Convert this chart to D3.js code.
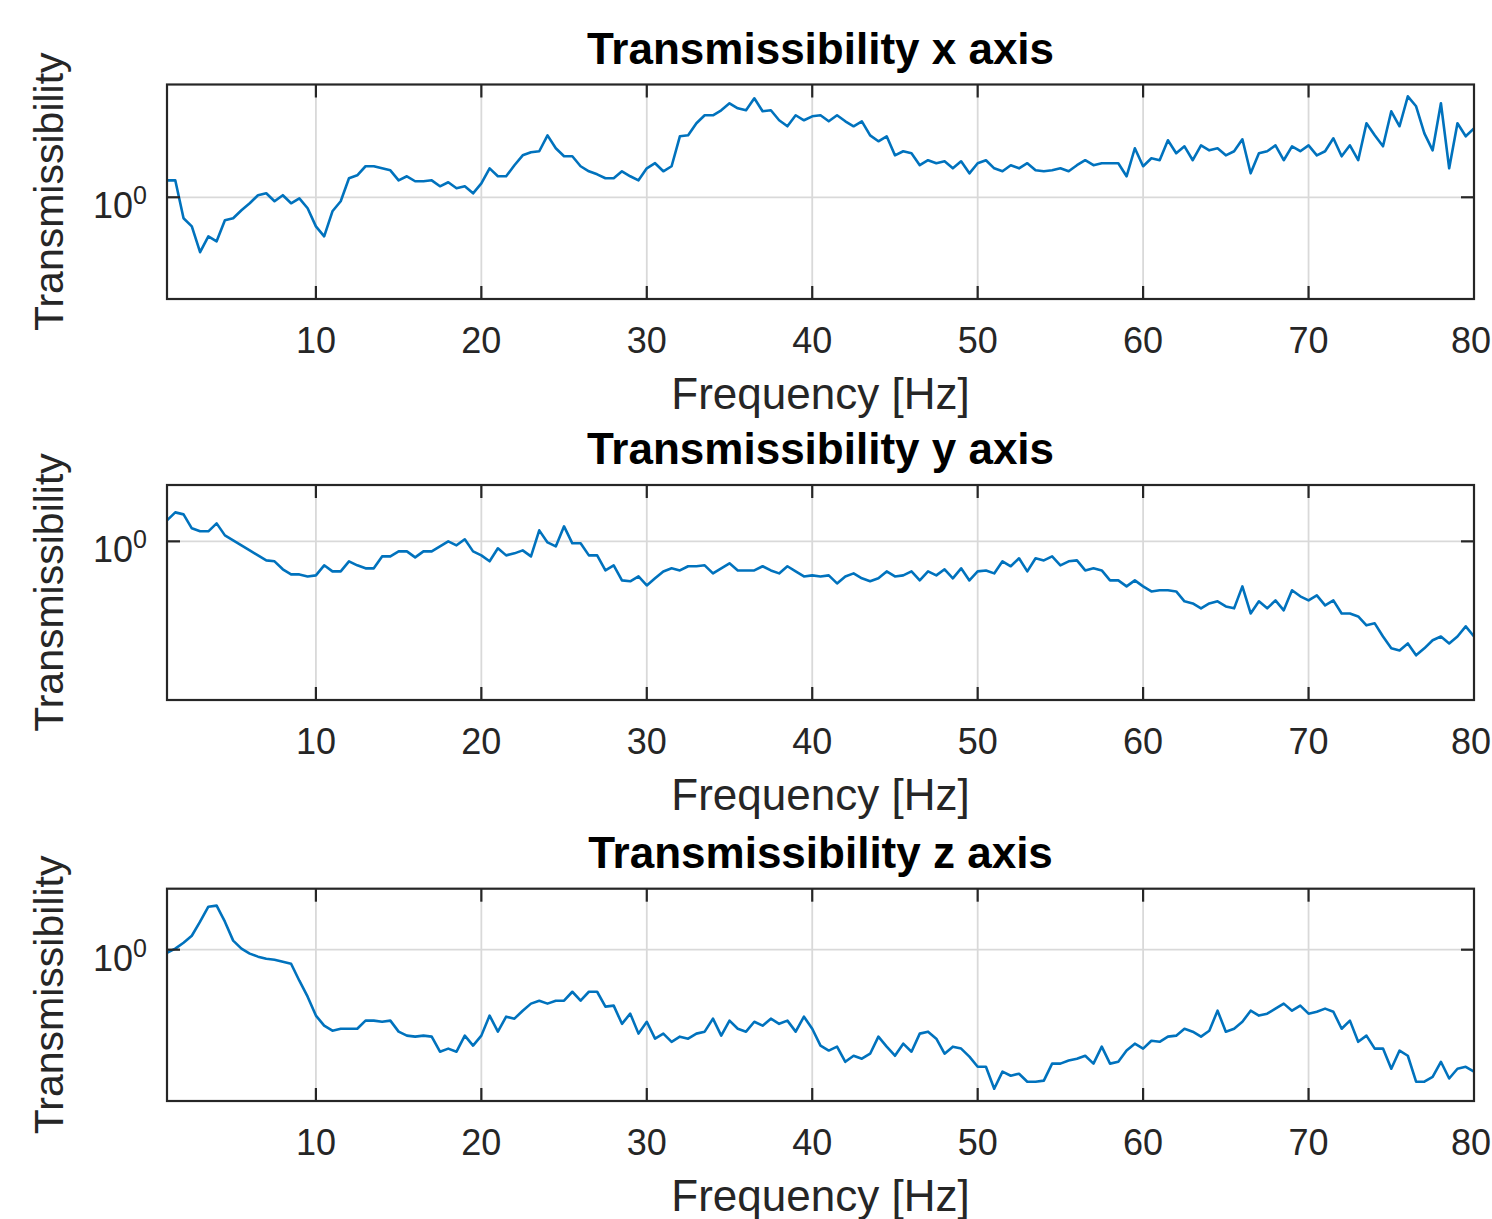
<!DOCTYPE html>
<html>
<head>
<meta charset="utf-8">
<script src="https://cdn.jsdelivr.net/npm/d3@7"></script>
<style>
  body { margin: 0; background: #fff; }
  text { font-family: "Liberation Sans", Arial, Helvetica, sans-serif; fill: #262626; }
</style>
</head>
<body>
<div id="chart"></div>
<script>
// frequency grid of the measurement (Hz), 0.5 Hz steps from 1 to 80
var freq = d3.range(1, 80.25, 0.5);
var xTicks = [10, 20, 30, 40, 50, 60, 70, 80];
var yTicks = [1];

// transmissibility, one value per 0.5 Hz (10 per row = 5 Hz)
var transX = [
  1.139,1.139,0.851,0.800,0.656,0.741,0.713,0.838,0.851,0.905,
  0.955,1.016,1.031,0.970,1.016,0.955,0.992,0.919,0.800,0.741,
  0.898,0.970,1.157,1.184,1.269,1.269,1.249,1.230,1.139,1.175,
  1.131,1.131,1.139,1.088,1.122,1.072,1.088,1.031,1.113,1.249,
  1.175,1.175,1.279,1.380,1.413,1.424,1.609,1.457,1.370,1.370,
  1.269,1.221,1.193,1.157,1.157,1.221,1.175,1.139,1.249,1.299,
  1.221,1.269,1.597,1.609,1.765,1.877,1.877,1.950,2.058,1.980,
  1.950,2.138,1.935,1.950,1.806,1.725,1.877,1.806,1.862,1.877,
  1.792,1.877,1.792,1.725,1.792,1.609,1.537,1.597,1.380,1.424,
  1.402,1.279,1.329,1.299,1.318,1.249,1.318,1.202,1.299,1.329,
  1.249,1.221,1.279,1.249,1.299,1.230,1.221,1.230,1.249,1.221,
  1.279,1.329,1.279,1.299,1.299,1.299,1.175,1.457,1.269,1.349,
  1.329,1.549,1.402,1.479,1.329,1.490,1.434,1.457,1.380,1.424,
  1.561,1.202,1.402,1.424,1.490,1.329,1.479,1.424,1.490,1.380,
  1.424,1.573,1.370,1.490,1.329,1.765,1.609,1.479,1.935,1.725,
  2.171,2.011,1.634,1.434,2.058,1.249,1.765,1.597,1.698
];

var transY = [
  1.175,1.249,1.230,1.105,1.080,1.080,1.148,1.047,1.008,0.970,
  0.933,0.898,0.864,0.858,0.807,0.776,0.776,0.764,0.770,0.832,
  0.794,0.794,0.858,0.832,0.813,0.813,0.891,0.891,0.926,0.926,
  0.884,0.926,0.926,0.962,1.000,0.970,1.016,0.926,0.898,0.858,
  0.948,0.898,0.912,0.933,0.891,1.088,0.992,0.962,1.122,0.985,
  0.985,0.898,0.898,0.800,0.832,0.741,0.736,0.764,0.713,0.753,
  0.794,0.813,0.800,0.826,0.826,0.832,0.782,0.813,0.845,0.800,
  0.800,0.800,0.826,0.800,0.782,0.826,0.794,0.764,0.770,0.764,
  0.770,0.724,0.764,0.782,0.753,0.736,0.753,0.794,0.764,0.770,
  0.794,0.741,0.794,0.770,0.807,0.753,0.813,0.741,0.794,0.800,
  0.782,0.858,0.826,0.878,0.794,0.878,0.864,0.891,0.832,0.858,
  0.864,0.800,0.813,0.800,0.741,0.741,0.708,0.741,0.708,0.681,
  0.687,0.687,0.681,0.631,0.621,0.598,0.621,0.631,0.607,0.598,
  0.708,0.575,0.631,0.598,0.636,0.589,0.687,0.656,0.636,0.661,
  0.612,0.636,0.575,0.575,0.562,0.525,0.533,0.482,0.440,0.433,
  0.457,0.417,0.440,0.468,0.482,0.457,0.482,0.521,0.482
];

var transZ = [
  0.977,1.008,1.055,1.113,1.240,1.391,1.402,1.240,1.072,1.008,
  0.970,0.948,0.933,0.926,0.912,0.898,0.788,0.697,0.603,0.558,
  0.537,0.545,0.545,0.545,0.580,0.580,0.575,0.580,0.533,0.517,
  0.513,0.517,0.513,0.457,0.468,0.457,0.517,0.479,0.517,0.603,
  0.533,0.598,0.589,0.626,0.661,0.676,0.661,0.676,0.676,0.724,
  0.676,0.724,0.724,0.646,0.651,0.566,0.612,0.525,0.575,0.505,
  0.525,0.493,0.513,0.505,0.525,0.533,0.589,0.517,0.580,0.545,
  0.533,0.575,0.558,0.589,0.566,0.580,0.533,0.598,0.545,0.479,
  0.461,0.475,0.423,0.443,0.433,0.450,0.513,0.475,0.443,0.486,
  0.457,0.525,0.533,0.505,0.450,0.475,0.468,0.440,0.407,0.407,
  0.344,0.392,0.380,0.386,0.363,0.363,0.366,0.417,0.417,0.427,
  0.433,0.443,0.417,0.475,0.417,0.423,0.461,0.486,0.468,0.497,
  0.493,0.513,0.517,0.545,0.533,0.513,0.537,0.626,0.533,0.545,
  0.575,0.626,0.603,0.612,0.636,0.661,0.626,0.651,0.612,0.621,
  0.636,0.621,0.545,0.580,0.493,0.517,0.468,0.468,0.401,0.461,
  0.443,0.363,0.363,0.377,0.423,0.372,0.401,0.407,0.392
];

var titles = ["Transmissibility x axis", "Transmissibility y axis", "Transmissibility z axis"];
var series = [transX, transY, transZ];
var yLimits = [[0.458, 2.377], [0.296, 1.541], [0.313, 1.597]];

var width = 1492, height = 1219;
var left = 167, right = 1474;
var panelTops = [84.5, 485, 888.7],
    panelBottoms = [299, 700, 1101];
var tickLen = 13;

var svg = d3.select("#chart").append("svg")
    .attr("width", width)
    .attr("height", height);

var x = d3.scaleLinear().domain([1, 80]).range([left, right]);

series.forEach(function(vals, i) {
  var top = panelTops[i], bottom = panelBottoms[i];
  var y = d3.scaleLog().domain(yLimits[i]).range([bottom, top]);
  var g = svg.append("g").attr("class", "panel");

  // grid
  g.selectAll(".xgrid").data(xTicks).enter().append("line")
      .attr("x1", function(d) { return x(d); })
      .attr("x2", function(d) { return x(d); })
      .attr("y1", top).attr("y2", bottom)
      .style("stroke", "#d9d9d9").style("stroke-width", 1.8);
  g.selectAll(".ygrid").data(yTicks).enter().append("line")
      .attr("x1", left).attr("x2", right)
      .attr("y1", function(d) { return y(d); })
      .attr("y2", function(d) { return y(d); })
      .style("stroke", "#d9d9d9").style("stroke-width", 1.8);

  // the curve
  var line = d3.line()
      .x(function(d, j) { return x(freq[j]); })
      .y(function(d) { return y(d); });
  g.append("path")
      .datum(vals)
      .attr("d", line)
      .style("fill", "none")
      .style("stroke", "#0072BD")
      .style("stroke-width", 2.6)
      .style("stroke-linejoin", "round");

  // inward ticks on all four sides
  xTicks.forEach(function(t) {
    if (t >= 80) return;
    g.append("line").attr("x1", x(t)).attr("x2", x(t)).attr("y1", bottom).attr("y2", bottom - tickLen)
        .style("stroke", "#262626").style("stroke-width", 2.2);
    g.append("line").attr("x1", x(t)).attr("x2", x(t)).attr("y1", top).attr("y2", top + tickLen)
        .style("stroke", "#262626").style("stroke-width", 2.2);
  });
  yTicks.forEach(function(t) {
    g.append("line").attr("x1", left).attr("x2", left + tickLen).attr("y1", y(t)).attr("y2", y(t))
        .style("stroke", "#262626").style("stroke-width", 2.2);
    g.append("line").attr("x1", right).attr("x2", right - tickLen).attr("y1", y(t)).attr("y2", y(t))
        .style("stroke", "#262626").style("stroke-width", 2.2);
  });

  // box
  g.append("rect")
      .attr("x", left).attr("y", top)
      .attr("width", right - left).attr("height", bottom - top)
      .style("fill", "none").style("stroke", "#262626").style("stroke-width", 2.2);

  // x tick labels (the last one is pulled in so it stays on the page)
  g.selectAll(".xlab").data(xTicks).enter().append("text")
      .attr("x", function(d) { return Math.min(x(d), width - 21); })
      .attr("y", bottom + 54)
      .style("text-anchor", "middle")
      .style("font-size", "36px")
      .text(function(d) { return d; });

  // y tick label 10^0
  yTicks.forEach(function(t) {
    var lab = g.append("text")
        .attr("x", left - 20)
        .attr("y", y(t) + 21)
        .style("text-anchor", "end")
        .style("font-size", "36px");
    lab.append("tspan").text("10");
    lab.append("tspan").attr("dy", -14).style("font-size", "25px").text(Math.round(Math.log10(t)));
  });

  // labels and title
  g.append("text")
      .attr("x", (left + right) / 2)
      .attr("y", bottom + 110)
      .style("text-anchor", "middle")
      .style("font-size", "44px")
      .text("Frequency [Hz]");

  g.append("text")
      .attr("transform", "translate(63," + ((top + bottom) / 2) + ") rotate(-90)")
      .style("text-anchor", "middle")
      .style("font-size", "41px")
      .text("Transmissibility");

  g.append("text")
      .attr("x", (left + right) / 2)
      .attr("y", top - 21)
      .style("text-anchor", "middle")
      .style("font-size", "44px")
      .style("font-weight", "bold")
      .style("fill", "#000")
      .text(titles[i]);
});
</script>
</body>
</html>
